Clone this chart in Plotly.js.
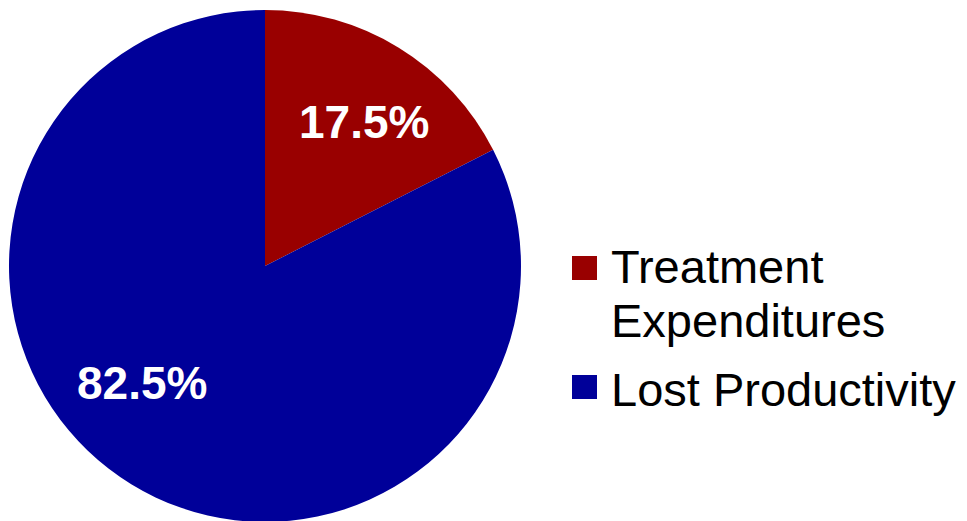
<!DOCTYPE html>
<html>
<head>
<meta charset="utf-8">
<script src="https://cdn.plot.ly/plotly-3.0.1.min.js"></script>
<style>
html,body{margin:0;padding:0;overflow:hidden;background:#fff;}
#chart{width:967px;height:532px;}
</style>
</head>
<body>
<div id="chart"></div>
<script>
// Data
const labels = ['Treatment Expenditures', 'Lost Productivity'];
const values = [17.5, 82.5];
const colors = ['#990000', '#000099'];

// Layout helpers (pixel -> paper)
const W = 967, H = 532, ML = 9, MR = 0, MT = 10, MB = 10;
const PW = W - ML - MR, PH = H - MT - MB;
const px = x => (x - ML) / PW;
const py = y => (H - MB - y) / PH;

const total = values.reduce((a, b) => a + b, 0);
const pct = v => (v / total * 100).toFixed(1) + '%';

const annotations = [];
const shapes = [];
// slice labels
const sliceLabelPos = [[364, 122], [142, 383]];
values.forEach((v, i) => {
  annotations.push({
    xref: 'paper', yref: 'paper', x: px(sliceLabelPos[i][0]), y: py(sliceLabelPos[i][1]),
    xanchor: 'center', yanchor: 'middle', showarrow: false,
    text: '<b>' + pct(v) + '</b>',
    font: {family: 'Liberation Sans, Arial, sans-serif', size: 46, color: '#ffffff'}
  });
});

// legend (custom, large)
const legendLines = [labels[0].split(' '), [labels[1]]];
const lineCenters = [[266, 320], [389]];
const squareCenters = [268, 387];
legendLines.forEach((lines, i) => {
  lines.forEach((t, j) => {
    annotations.push({
      xref: 'paper', yref: 'paper', x: px(609), y: py(lineCenters[i][j]),
      xanchor: 'left', yanchor: 'middle', showarrow: false, text: t,
      font: {family: 'Liberation Sans, Arial, sans-serif', size: 47, color: '#000000'}
    });
  });
  const c = squareCenters[i];
  shapes.push({
    type: 'rect', xref: 'paper', yref: 'paper',
    x0: px(572), x1: px(597), y0: py(c + 12), y1: py(c - 12),
    fillcolor: colors[i], line: {width: 0}
  });
});

const trace = {
  type: 'pie',
  labels: labels,
  values: values,
  sort: false,
  direction: 'clockwise',
  rotation: 0,
  marker: {colors: colors, line: {width: 0}},
  textinfo: 'none',
  hoverinfo: 'label+percent',
  domain: {x: [0, 512 / PW], y: [0, 1]}
};

const layout = {
  width: W, height: H,
  margin: {l: ML, r: MR, t: MT, b: MB, pad: 0},
  paper_bgcolor: '#ffffff',
  plot_bgcolor: '#ffffff',
  showlegend: false,
  annotations: annotations,
  shapes: shapes
};

Plotly.newPlot('chart', [trace], layout, {displayModeBar: false, staticPlot: true});
</script>
</body>
</html>
